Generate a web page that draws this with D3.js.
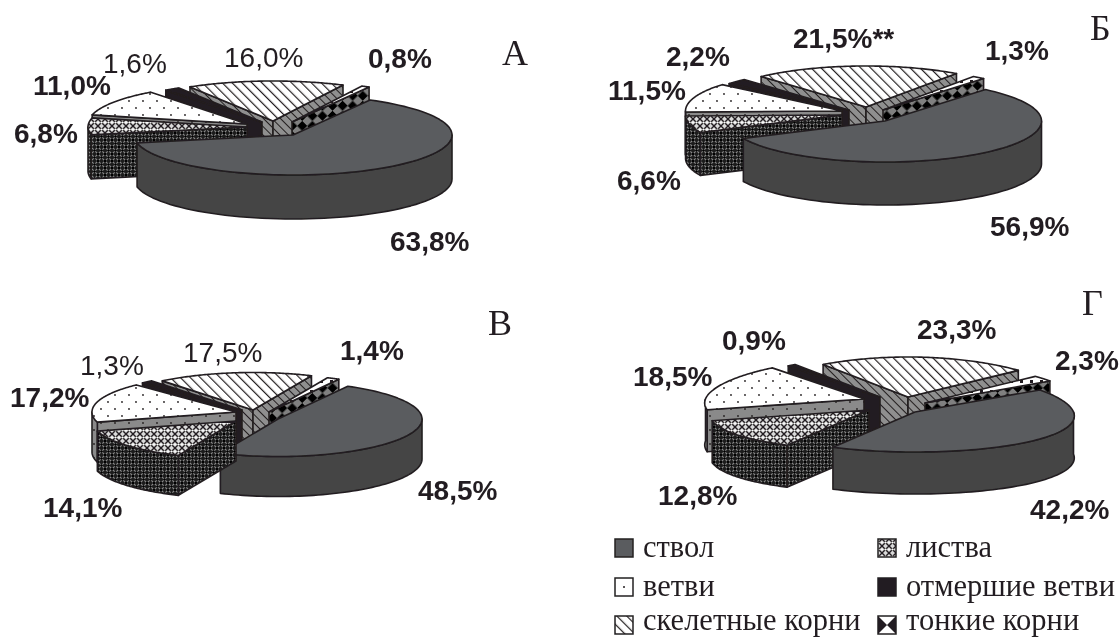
<!DOCTYPE html>
<html><head><meta charset="utf-8">
<script src="https://cdn.jsdelivr.net/npm/d3@7/dist/d3.min.js"></script>
<style>html,body{margin:0;padding:0;background:#fff}svg{display:block}</style>
</head><body><svg id="c" width="1120" height="637"></svg>
<script>
const parts = ["ствол","листва","ветви","отмершие ветви","скелетные корни","тонкие корни"];
const partKeys = ["trunk","leaf","branch","dead","skel","thin"];
const panelNames = ["А","Б","В","Г"];
const valuesA = [63.8,6.8,11.0,1.6,16.0,0.8];
const valuesB = [56.9,6.6,11.5,2.2,21.5,1.3];
const valuesC = [48.5,14.1,17.2,1.3,17.5,1.4];
const valuesD = [42.2,12.8,18.5,0.9,23.3,2.3];
const boldA = [1,1,1,0,0,1];
const boldB = [1,1,1,1,1,1];
const boldC = [1,1,1,0,0,1];
const boldD = [1,1,1,1,1,1];
const suffixB = ["","","","","**",""];

// layout (not data)
const layouts = [
 {values:valuesA,bold:boldA,suffix:[],start:29,rx:159,ry:40,depth:44,p:0,letter:[502,65],
  centers:[[293,135],[247,127],[247,124],[262,122],[273,121],[292,122]],
  labels:[[390,251],[14,143],[33,95],[103,73],[224,67],[368,68]]},
 {values:valuesB,bold:boldB,suffix:suffixB,start:40,rx:156.5,ry:41,depth:43,p:0,letter:[1090,40],
  centers:[[885,121],[842,115],[842,111],[849,110],[866,107],[883,110]],
  labels:[[990,236],[617,190],[608,100],[666,66],[793,48],[985,60]]},
 {values:valuesC,bold:boldC,suffix:[],start:29,rx:144,ry:37.5,depth:40,p:0,letter:[488,335],
  centers:[[278,419],[236,421],[236,412],[242,410],[253,410],[269,412]],
  labels:[[418,500],[43,517],[10,407],[80,375],[183,362],[340,360]]},
 {values:valuesD,bold:boldD,suffix:[],start:56.5,rx:158.5,ry:40,depth:42,p:0.1,letter:[1082,315],
  centers:[[915,412],[869,410],[864,399],[880,397],[908,397],[925,403]],
  labels:[[1030,519],[658,505],[633,386],[722,350],[917,339],[1055,370]]}
];
const legendCols=[615,878], legendRows=[539,578,616], legendSwatch=18, legendGap=10, legendBase=[557,596,630];

const INK="#231f20";
const svg=d3.select("#c");
const defs=svg.append("defs");
defs.append("filter").attr("id","soft").append("feGaussianBlur").attr("stdDeviation",0.35);
function pat(id,size,bg,draw,tr){
  const p=defs.append("pattern").attr("id",id).attr("patternUnits","userSpaceOnUse").attr("width",size).attr("height",size);
  if(tr)p.attr("patternTransform",tr);
  p.append("rect").attr("width",size).attr("height",size).attr("fill",bg);
  draw(p);
}
const L=(p,d,c,w)=>p.append("path").attr("d",d).attr("stroke",c).attr("stroke-width",w).attr("fill","none");
const C=(p,x,y,r,c)=>p.append("circle").attr("cx",x).attr("cy",y).attr("r",r).attr("fill",c);
pat("leafTop",7,"#d9d9d9",p=>{L(p,"M0 0L7 7M7 0L0 7",INK,1.4);C(p,3.5,3.5,1.1,"#fff");C(p,0,3.5,.9,"#fff");C(p,7,3.5,.9,"#fff");});
pat("leafWall",7,"#1a1a1a",p=>{L(p,"M0 0L7 7M7 0L0 7","#8d8d8d",1.2);C(p,3.5,3.5,1.2,"#000");C(p,0,0,1.2,"#000");C(p,7,0,1.2,"#000");C(p,0,7,1.2,"#000");C(p,7,7,1.2,"#000");});
pat("branchTop",14,"#fff",p=>{C(p,3,3,.9,INK);C(p,10,10,.9,INK);});
pat("branchWall",14,"#8a8a8a",p=>{C(p,3,3,.9,INK);C(p,10,10,.9,INK);});
pat("skelTop",7,"#fff",p=>{L(p,"M0 -3.5V10.5",INK,2.4);},"rotate(-45)");
pat("skelWall",6,"#8f8f8f",p=>{L(p,"M0 -3V9",INK,2);},"rotate(-45)");
pat("thinWall",15,"#808080",p=>{p.append("rect").attr("width",7.5).attr("height",7.5).attr("fill","#000");p.append("rect").attr("x",7.5).attr("y",7.5).attr("width",7.5).attr("height",7.5).attr("fill","#000");},"rotate(45) scale(.95)");
pat("thinTop",10,"#fff",p=>{p.append("rect").attr("width",3).attr("height",3).attr("fill",INK);});

const fills={
 trunk:{top:"#5a5c5e",wall:"#444545"},
 leaf:{top:"url(#leafTop)",wall:"url(#leafWall)"},
 branch:{top:"url(#branchTop)",wall:"url(#branchWall)"},
 dead:{top:INK,wall:INK},
 skel:{top:"url(#skelTop)",wall:"url(#skelWall)"},
 thin:{top:"url(#thinTop)",wall:"url(#thinWall)"}
};
const rad=d=>d*Math.PI/180;
const line=d3.line();
const fmt=v=>v.toFixed(1).replace(".",",")+"%";
const root=svg.append("g").attr("filter","url(#soft)");

function drawPanel(g,o){
  const pie=d3.pie().sort(null).value(d=>d).startAngle(rad(o.start)).endAngle(rad(o.start)+2*Math.PI);
  const arcs=pie(o.values).map((a,i)=>({...a,i}));
  arcs.sort((a,b)=>(-Math.cos((a.startAngle+a.endAngle)/2))-(-Math.cos((b.startAngle+b.endAngle)/2)));
  arcs.forEach(a=>{
    const [cx,cy]=o.centers[a.i], key=partKeys[a.i], f=fills[key];
    const pt=(t,dz=0)=>[cx+o.rx*Math.sin(t)*(1-o.p*Math.cos(t)), cy-o.ry*Math.cos(t)+dz];
    const s=g.append("g").attr("class","slice "+key);
    const style=sel=>sel.attr("stroke",INK).attr("stroke-width",1.6).attr("stroke-linejoin","round");
    const radial=(t)=>line([[cx,cy],pt(t),pt(t,o.depth),[cx,cy+o.depth]])+"Z";
    if(-Math.cos(a.startAngle-Math.PI/2)>0) s.append("path").attr("d",radial(a.startAngle)).attr("fill",f.wall).call(style);
    if(-Math.cos(a.endAngle+Math.PI/2)>0) s.append("path").attr("d",radial(a.endAngle)).attr("fill",f.wall).call(style);
    [-1,0,1].forEach(k=>{
      const lo=Math.max(a.startAngle,rad(90+360*k)), hi=Math.min(a.endAngle,rad(270+360*k));
      if(hi>lo){
        const ts=d3.range(0,61).map(j=>lo+(hi-lo)*j/60);
        const pts=ts.map(t=>pt(t)).concat(ts.slice().reverse().map(t=>pt(t,o.depth)));
        s.append("path").attr("d",line(pts)+"Z").attr("fill",f.wall).call(style);
      }
    });
    const ts=d3.range(0,91).map(j=>a.startAngle+(a.endAngle-a.startAngle)*j/90);
    s.append("path").attr("d",line([[cx,cy],...ts.map(t=>pt(t))])+"Z").attr("fill",f.top).call(style);
  });
  o.values.forEach((v,i)=>{
    g.append("text").attr("x",o.labels[i][0]).attr("y",o.labels[i][1])
     .attr("font-family","'Liberation Sans',Arial,sans-serif").attr("font-size",28)
     .attr("font-weight",o.bold[i]?700:400).attr("fill",INK)
     .text(fmt(v)+(o.suffix[i]||""));
  });
}
layouts.forEach((o,i)=>{
  const g=root.append("g").attr("class","panel");
  drawPanel(g,o);
  g.append("text").attr("x",o.letter[0]).attr("y",o.letter[1])
   .attr("font-family","'Liberation Serif',serif").attr("font-size",36).attr("fill",INK).text(panelNames[i]);
});
const leg=root.append("g").attr("class","legend");
parts.forEach((name,pi)=>{
  const col=pi%2,row=Math.floor(pi/2);
  const x=legendCols[col],y=legendRows[row],S=legendSwatch;
  const key=partKeys[pi];
  leg.append("rect").attr("x",x).attr("y",y).attr("width",S).attr("height",S)
    .attr("fill",(key==="thin"||key==="branch")?"#fff":fills[key].top).attr("stroke",INK).attr("stroke-width",1.5);
  if(key==="thin") leg.append("path").attr("d",line([[x,y],[x,y+S],[x+S,y],[x+S,y+S]])+"Z").attr("fill",INK);
  if(key==="branch") leg.append("circle").attr("cx",x+S/2).attr("cy",y+S/2).attr("r",1).attr("fill",INK);
  leg.append("text").attr("x",x+S+legendGap).attr("y",legendBase[row])
    .attr("font-family","'Liberation Serif',serif").attr("font-size",30.5).attr("fill",INK).text(name);
});
</script></body></html>
